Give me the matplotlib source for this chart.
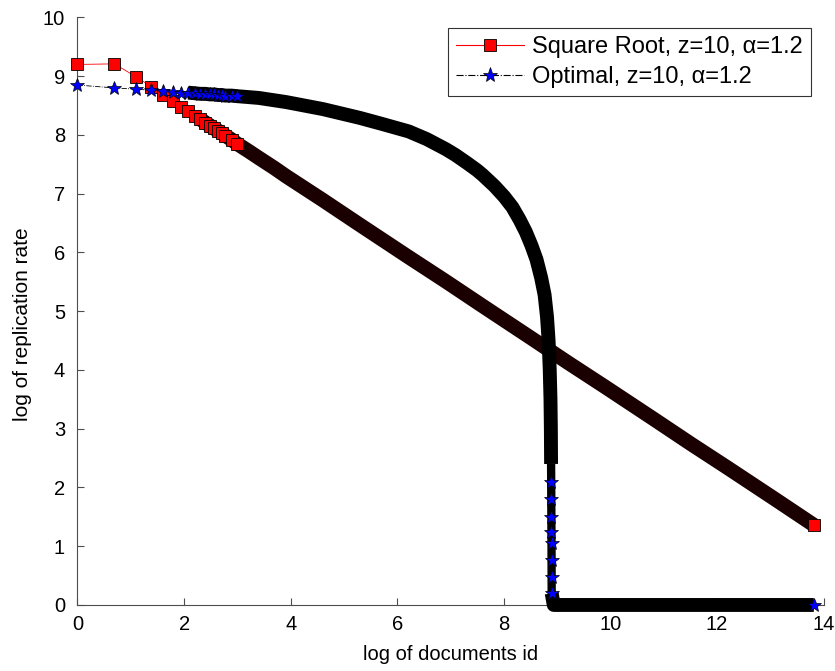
import numpy as np
import matplotlib.pyplot as plt

plt.rcParams['font.family'] = ['Liberation Sans', 'DejaVu Sans']

# document ids and log replication rate
sqrt_ids = [1, 2, 3, 4, 5, 6, 7, 8, 9, 10, 11, 12, 13, 14, 15, 16, 18, 20, 25, 30,
            40, 50, 100, 200, 500, 1000, 2000, 5000, 10000, 20000, 50000,
            100000, 200000, 500000, 1000000]
sqrt_rates = [9.20, 9.21, 8.99, 8.82, 8.68, 8.57, 8.48, 8.40, 8.33, 8.27, 8.21, 8.16,
              8.11, 8.07, 8.03, 7.99, 7.92, 7.85, 7.72, 7.61, 7.44, 7.30, 6.89, 6.47,
              5.92, 5.51, 5.09, 4.54, 4.12, 3.71, 3.16, 2.74, 2.33, 1.78, 1.36]

opt_ids = [1, 2, 3, 4, 5, 6, 7, 8, 9, 10, 11, 12, 13, 14, 15, 16, 18, 20, 30, 50,
           100, 200, 300, 500, 700, 1000, 1200, 1500, 1800, 2000, 2500, 3000, 3500,
           4000, 4500, 5000, 5500, 6000, 6400, 6700, 6900, 7050, 7150, 7200,
           7230, 7245, 7258, 7270, 7280, 7288, 7296, 7303, 7310,
           7600, 20000, 100000, 1000000]
opt_rates = [8.85, 8.80, 8.78, 8.76, 8.75, 8.73, 8.72, 8.72, 8.71, 8.70, 8.70, 8.69,
             8.69, 8.68, 8.68, 8.67, 8.67, 8.66, 8.63, 8.56, 8.44, 8.29, 8.19, 8.06,
             7.93, 7.76, 7.66, 7.52, 7.40, 7.32, 7.13, 6.95, 6.77,
             6.56, 6.35, 6.12, 5.88, 5.57, 5.28, 4.90, 4.50, 4.00, 3.50, 3.00,
             2.40, 2.10, 1.80, 1.50, 1.25, 1.05, 0.77, 0.48, 0.20,
             0, 0, 0, 0]

sqrt_label = 'Square Root, z=10, \u03b1=1.2'
opt_label = 'Optimal, z=10, \u03b1=1.2'

sx = np.log(sqrt_ids)
sy = np.array(sqrt_rates)
ox = np.log(opt_ids)
oy = np.array(opt_rates)

fig = plt.figure(figsize=(8.35, 6.71), dpi=100)
ax = fig.add_axes([0.0928, 0.0984, 0.8936, 0.8756])

# square root: the dense tail shows up as a thick dark band
ax.plot(sx[:19], sy[:19], color='red', lw=0.6, clip_on=False, zorder=2)
ax.plot(sx[9:], sy[9:], color='#1a0000', lw=10.5, solid_capstyle='butt', clip_on=False, zorder=2)
s_marks = [i for i, d in enumerate(sqrt_ids) if d <= 20] + [len(sqrt_ids) - 1]
ax.plot(sx, sy, ls='none', marker='s', ms=8, mfc='red', mec='k', mew=0.6,
        markevery=s_marks, clip_on=False, zorder=3)
h1, = ax.plot([], [], color='red', lw=0.8, marker='s', ms=8, mfc='red', mec='k', mew=0.6)

# optimal
drop = opt_ids.index(7230)
zero = opt_ids.index(7310)
ax.plot(ox[:18], oy[:18], color='k', lw=0.6, ls='-.', clip_on=False, zorder=4)
ax.plot(ox[7:drop + 1], oy[7:drop + 1], color='k', lw=10, solid_capstyle='butt', clip_on=False, zorder=4)
ax.plot(ox[drop:zero + 1], oy[drop:zero + 1], color='k', lw=6, solid_capstyle='butt', clip_on=False, zorder=4)
ax.plot(ox[zero:], oy[zero:], color='k', lw=10, solid_capstyle='butt', clip_on=False, zorder=4)
o_marks = [i for i, d in enumerate(opt_ids) if d <= 20 or 7245 <= d <= 7310] + [len(opt_ids) - 1]
ax.plot(ox, oy, ls='none', marker='*', ms=10, mfc='#0000ff', mec='k', mew=0.5,
        markevery=o_marks, clip_on=False, zorder=5)
h2, = ax.plot([], [], color='k', lw=0.8, ls='-.', marker='*', ms=11, mfc='#0000ff', mec='k', mew=0.5)

ax.set_xlim(0, 14)
ax.set_ylim(0, 10)
ax.set_xticks(np.arange(0, 15, 2))
ax.set_yticks(np.arange(0, 11, 1))
for s in ['top', 'right']:
    ax.spines[s].set_visible(False)
for s in ['left', 'bottom']:
    ax.spines[s].set_color('0.3')
    ax.spines[s].set_linewidth(0.8)
ax.tick_params(direction='in', length=5, width=0.8, color='0.3', labelsize=14.5)
ax.tick_params(axis='x', pad=7)
ax.tick_params(axis='y', pad=9)
ax.set_xlabel('log of documents id', fontsize=14.5, labelpad=8)
ax.set_ylabel('log of replication rate', fontsize=15, labelpad=8)
ax.yaxis.label.set_y(0.478)

leg = ax.legend([h1, h2], [sqrt_label, opt_label], loc='upper right',
                bbox_to_anchor=(0.983, 0.982), fontsize=17, handlelength=2.85,
                frameon=True, fancybox=False, edgecolor='k', borderpad=0.35,
                labelspacing=0.32, handletextpad=0.35, borderaxespad=0)
leg.get_frame().set_linewidth(0.8)
leg.set_zorder(10)

fig.savefig('out.png', dpi=100)
